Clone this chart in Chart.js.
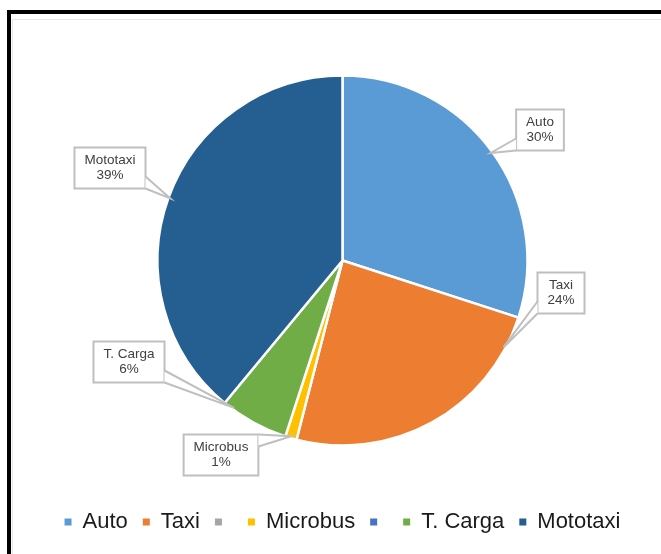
<!DOCTYPE html>
<html>
<head>
<meta charset="utf-8">
<script src="https://cdn.jsdelivr.net/npm/chart.js@4.4.1/dist/chart.umd.min.js"></script>
<style>
html,body{margin:0;padding:0;background:#fff;}
#marco{position:absolute;left:7px;top:10px;width:700px;height:600px;border-left:4px solid #000;border-top:4px solid #000;}
#interior{position:absolute;left:12px;top:19px;width:700px;height:600px;border-left:1px solid #e6e6e6;border-top:1px solid #e6e6e6;}
canvas{position:absolute;left:0;top:0;}
</style>
</head>
<body>
<div id="marco"></div>
<div id="interior"></div>
<canvas id="grafico" width="661" height="554"></canvas>
<script>
const categorias = ["Auto", "Taxi", "", "Microbus", "", "T. Carga", "Mototaxi"];
const porcentajes = [30, 24, 0, 1, 0, 6, 39];
const colores = ["#5B9BD5", "#ED7D31", "#A5A5A5", "#FFC000", "#4472C4", "#70AD47", "#255E91"];

// caja de cada rotulo (centro) y punto del arco donde apunta la flecha
const rotulos = {
  0: {x: 540, y: 130, punta: 0.5},
  1: {x: 561, y: 293, punta: 0.12},
  3: {x: 221, y: 455, punta: 0.5},
  5: {x: 129, y: 362, punta: 0.85},
  6: {x: 110, y: 168, punta: 0.5}
};

const fuente = "'Liberation Sans', Arial, sans-serif";

const pluginRotulos = {
  id: "rotulos",
  afterDatasetsDraw(chart){
    const ctx = chart.ctx;
    const arcos = chart.getDatasetMeta(0).data;
    ctx.save();
    ctx.font = "13.5px " + fuente;
    ctx.lineWidth = 2;
    ctx.strokeStyle = "#BFBFBF";
    arcos.forEach((arco, i) => {
      const r = rotulos[i];
      if(!r || porcentajes[i] === 0) return;
      const p = arco.getProps(["x", "y", "startAngle", "endAngle", "outerRadius"], true);
      const ang = p.startAngle + (p.endAngle - p.startAngle) * r.punta;
      const tx = p.x + (p.outerRadius - 2) * Math.cos(ang);
      const ty = p.y + (p.outerRadius - 2) * Math.sin(ang);

      const lineas = [categorias[i], porcentajes[i] + "%"];
      const ancho = Math.max(...lineas.map(l => ctx.measureText(l).width)) + 20;
      const alto = 41;
      const x0 = r.x - ancho / 2, y0 = r.y - alto / 2;
      const x1 = x0 + ancho, y1 = y0 + alto;
      const cl = (v, a, b) => Math.max(a, Math.min(b, v));

      // base de la flecha sobre el lado de la caja mas cercano
      let b1, b2;
      if(tx < x0 || tx > x1){
        const sx = tx < x0 ? x0 : x1;
        const py = cl(ty, y0 + 6, y1 - 6);
        b1 = [sx, py - 6]; b2 = [sx, py + 6];
      } else {
        const sy = ty > y1 ? y1 : y0;
        const px = cl(tx, x0 + 6, x1 - 6);
        b1 = [px - 6, sy]; b2 = [px + 6, sy];
      }

      ctx.fillStyle = "#fff";
      ctx.fillRect(x0, y0, ancho, alto);
      ctx.strokeRect(x0, y0, ancho, alto);

      ctx.beginPath();
      ctx.moveTo(b1[0], b1[1]);
      ctx.lineTo(tx, ty);
      ctx.lineTo(b2[0], b2[1]);
      ctx.closePath();
      ctx.fill();
      ctx.beginPath();
      ctx.moveTo(b1[0], b1[1]);
      ctx.lineTo(tx, ty);
      ctx.lineTo(b2[0], b2[1]);
      ctx.stroke();

      ctx.fillStyle = "#404040";
      ctx.textAlign = "center";
      ctx.textBaseline = "middle";
      ctx.fillText(lineas[0], r.x, r.y - 7.5);
      ctx.fillText(lineas[1], r.x, r.y + 7.5);
    });
    ctx.restore();
  }
};

new Chart(document.getElementById("grafico"), {
  type: "pie",
  data: {
    labels: categorias,
    datasets: [{
      data: porcentajes,
      backgroundColor: colores,
      borderColor: "#fff",
      borderWidth: 2.5,
      radius: 185
    }]
  },
  options: {
    responsive: false,
    animation: false,
    layout: {padding: {top: 25, bottom: 11, left: 24, right: 0}},
    plugins: {
      tooltip: {enabled: false},
      legend: {
        position: "bottom",
        labels: {
          boxWidth: 7,
          boxHeight: 7,
          padding: 15,
          color: "#1a1a1a",
          font: {family: fuente, size: 22},
          generateLabels(chart){
            const items = Chart.overrides.pie.plugins.legend.labels.generateLabels(chart);
            items.forEach(it => { it.lineWidth = 0; it.strokeStyle = "rgba(0,0,0,0)"; });
            return items;
          }
        }
      }
    }
  },
  plugins: [pluginRotulos]
});
</script>
</body>
</html>
